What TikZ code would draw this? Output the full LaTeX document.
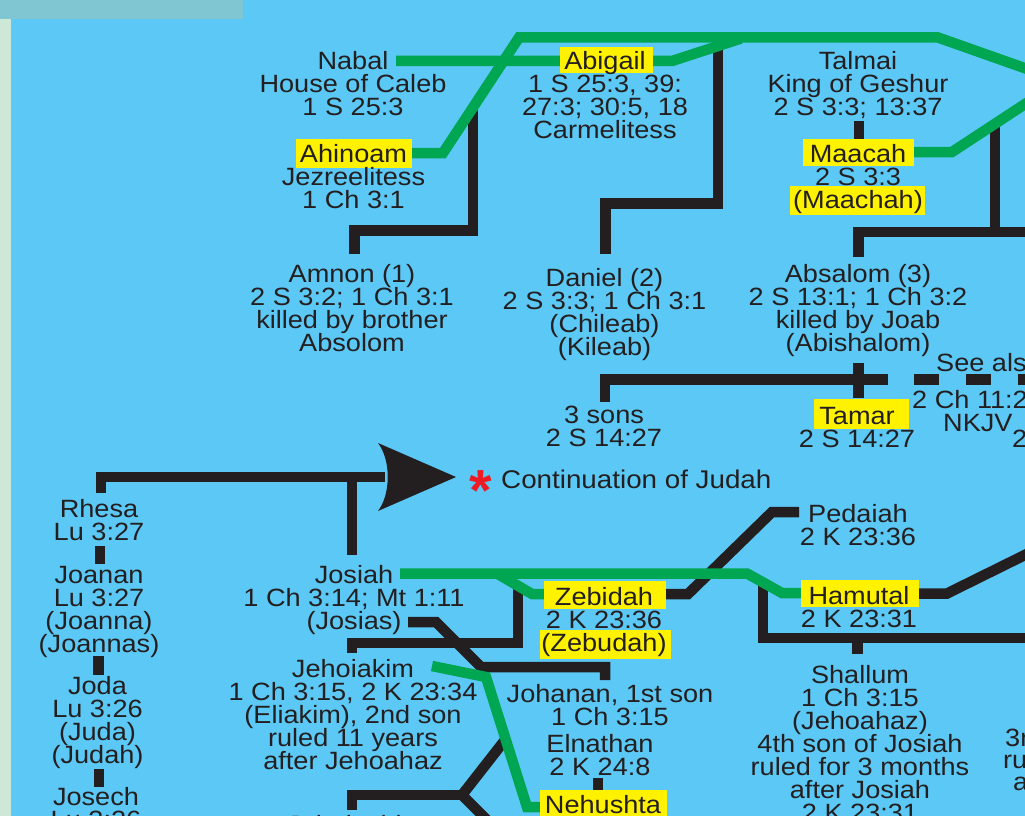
\documentclass[tikz,border=0pt]{standalone}
\usepackage{fontspec}
\setmainfont{Liberation Sans}
\usepackage{graphicx}
\definecolor{bgblue}{HTML}{5CC8F5}
\definecolor{topbar}{HTML}{7FC6D2}
\definecolor{sidestrip}{HTML}{CDE8D6}
\definecolor{lineblack}{HTML}{231F20}
\definecolor{linegreen}{HTML}{00A651}
\definecolor{hlyellow}{HTML}{FFF200}
\definecolor{astred}{HTML}{ED1C24}
\newcommand\tx[1]{\scalebox{1.085}[1]{\vtop{\baselineskip=23pt\lineskiplimit=-100pt\lineskip=0pt\halign{\hfil##\hfil\cr#1\crcr}}}}
\tikzset{
  blk/.style={draw=lineblack, line width=10.5pt, line join=miter, line cap=butt},
  grn/.style={draw=linegreen, line width=10.5pt, line join=miter, line cap=butt},
  lbl/.style={anchor=base, inner sep=0pt, text=lineblack, font=\fontsize{25}{23}\selectfont},
  lblw/.style={lbl, anchor=base west},
  hlbox/.style={fill=hlyellow},
}
\begin{document}
\begin{tikzpicture}[x=1pt,y=-1pt]
\useasboundingbox (0,0) rectangle (1025,816);
\clip (0,0) rectangle (1025,816);
\fill[bgblue] (0,0) rectangle (1025,816);
\fill[sidestrip] (0,0) rectangle (11,816);
\fill[topbar] (0,0) rectangle (243,19);

% ---------- named connector end points ----------
\coordinate (amnonA) at (473,110);   \coordinate (amnonB) at (354.5,254);
\coordinate (danielA) at (718,50);   \coordinate (danielB) at (605.7,254);
\coordinate (talmaiT) at (859,121);  \coordinate (maacahT) at (859,139);
\coordinate (absA) at (995,126);     \coordinate (absB) at (858.5,256.5);
\coordinate (absR) at (1035,232);
\coordinate (sonsT) at (605,401.5);  \coordinate (sonsR) at (888,379.5);
\coordinate (tamA) at (858.5,363);   \coordinate (tamB) at (858.5,398);
\coordinate (seeA) at (914,379.5);   \coordinate (seeB) at (1035,379.5);
\coordinate (rhesaT) at (101,493);   \coordinate (arrowE) at (385,477);
\coordinate (rhesaB) at (100,546);   \coordinate (joananT) at (100,564);
\coordinate (joananB) at (98.5,656); \coordinate (jodaT) at (98.5,675);
\coordinate (jodaB) at (99,769);     \coordinate (josechT) at (99,787);
\coordinate (josiahJ) at (352,477);  \coordinate (josiahT) at (352,555);
\coordinate (josiasR) at (408,622);  \coordinate (johananT) at (605,680);
\coordinate (zebJ) at (518,588);     \coordinate (jehoiakimT) at (352,653);
\coordinate (zebR) at (660,594);     \coordinate (pedaiahL) at (799,512);
\coordinate (hamR) at (912,593.5);   \coordinate (hamOut) at (1035,550);
\coordinate (hamJ) at (763,582);     \coordinate (shalR) at (1035,638);
\coordinate (shalJ) at (857.5,638);  \coordinate (shallumT) at (857.5,654);
\coordinate (elnB) at (598,778);     \coordinate (nehT) at (598,792);
\coordinate (jchT) at (352,810);     \coordinate (yJ) at (462,795);
\coordinate (yUp) at (505,740);      \coordinate (yDn) at (492,825);
\coordinate (nabalR) at (396,61);    \coordinate (nabalE) at (741,38.5);
\coordinate (ahiR) at (410,153);     \coordinate (davidA) at (1045,75.3);
\coordinate (maaR) at (910,152);     \coordinate (davidB) at (1045,90.9);
\coordinate (josiahR) at (400,573.5);\coordinate (hamL) at (803,593);
\coordinate (zebG) at (497,573.5);   \coordinate (zebL) at (546,594);
\coordinate (jkR) at (432,666);      \coordinate (nehL) at (542,807);

% ---------- black lines ----------
\draw[blk] (amnonA) -- (473,230.5) -- (354.5,230.5) -- (amnonB);
\draw[blk] (danielA) -- (718,203.5) -- (605.7,203.5) -- (danielB);
\draw[blk] (talmaiT) -- (maacahT);
\draw[blk] (absR) -- (858.5,232) -- (absB);
\draw[blk] (absA) -- (995,232);
\draw[blk] (sonsT) -- (605,379.5) -- (sonsR);
\draw[blk] (tamA) -- (tamB);
\draw[blk, dash pattern=on 25pt off 27pt] (seeA) -- (seeB);
\draw[blk] (rhesaT) -- (101,477) -- (arrowE);
\fill[lineblack] (456,477) -- (378,443) .. controls (391,460) and (391,494) .. (378,511) -- cycle;
\draw[blk] (rhesaB) -- (joananT);
\draw[blk] (joananB) -- (jodaT);
\draw[blk] (jodaB) -- (josechT);
\draw[blk] (josiahJ) -- (josiahT);
\draw[blk] (josiasR) -- (436,622) -- (481,667) -- (605,667) -- (johananT);
\draw[blk] (zebJ) -- (518,643) -- (352,643) -- (jehoiakimT);
\draw[blk] (zebR) -- (688,594) -- (772,512) -- (pedaiahL);
\draw[blk] (hamR) -- (947,593.5) -- (hamOut);
\draw[blk] (hamJ) -- (763,638) -- (shalR);
\draw[blk] (shalJ) -- (shallumT);
\draw[blk] (elnB) -- (nehT);
\draw[blk] (jchT) -- (352,795) -- (yJ);
\draw[blk] (yUp) -- (yJ) -- (yDn);

% ---------- green lines ----------
\draw[grn] (nabalR) -- (672,61) -- (nabalE);
\draw[grn] (ahiR) -- (443,153) -- (519,37.5) -- (938,37.5) -- (davidA);
\draw[grn] (maaR) -- (952,152) -- (davidB);
\draw[grn] (josiahR) -- (747,573.5) -- (782,593) -- (hamL);
\draw[grn] (zebG) -- (532,594) -- (zebL);
\draw[grn] (jkR) -- (486,677) -- (527,807) -- (nehL);

% ---------- highlights ----------
\fill[hlbox] (296,139) rectangle (412,168);
\fill[hlbox] (560,47) rectangle (653,73);
\fill[hlbox] (803,139) rectangle (914,166);
\fill[hlbox] (790,186) rectangle (925,215);
\fill[hlbox] (814,399) rectangle (909,429);
\fill[hlbox] (544,581) rectangle (666,609);
\fill[hlbox] (540,630) rectangle (671,659);
\fill[hlbox] (801,580) rectangle (919,607);
\fill[hlbox] (540,790) rectangle (667,830);

% ---------- people ----------
\node[lbl] (nabal) at (353,69.5) {\tx{Nabal\cr House of Caleb\cr 1 S 25:3}};
\node[lbl] (ahinoam) at (353.5,162.5) {\tx{Ahinoam\cr Jezreelitess\cr 1 Ch 3:1}};
\node[lbl] (abigail) at (605,69.5) {\tx{Abigail\cr 1 S 25:3, 39:\cr 27:3; 30:5, 18\cr Carmelitess}};
\node[lbl] (talmai) at (858,69.5) {\tx{Talmai\cr King of Geshur\cr 2 S 3:3; 13:37}};
\node[lbl] (maacah) at (858,162.5) {\tx{Maacah\cr 2 S 3:3\cr (Maachah)}};
\node[lbl] (amnon) at (352,282) {\tx{Amnon (1)\cr 2 S 3:2; 1 Ch 3:1\cr killed by brother\cr Absolom}};
\node[lbl] (daniel) at (604.5,286) {\tx{Daniel (2)\cr 2 S 3:3; 1 Ch 3:1\cr (Chileab)\cr (Kileab)}};
\node[lbl] (absalom) at (858,282) {\tx{Absalom (3)\cr 2 S 13:1; 1 Ch 3:2\cr killed by Joab\cr (Abishalom)}};
\node[lbl] (sons) at (604,423) {\tx{3 sons\cr 2 S 14:27}};
\node[lbl] (tamar) at (857,424) {\tx{Tamar\cr 2 S 14:27}};
\node[lblw] (seealso) at (936,371) {\tx{See als}};
\node[lblw] (ch11) at (912,408) {\tx{2 Ch 11:2}};
\node[lblw] (nkjv) at (943,431.5) {\tx{NKJV}};
\node[lblw] (two) at (1012,447) {\tx{2}};
\node[anchor=base, inner sep=0pt, text=astred, font=\fontsize{58}{58}\bfseries\selectfont] (ast) at (481,510) {*};
\node[lblw, font=\fontsize{25.6}{23}\selectfont] (cont) at (501,488.5) {\tx{Continuation of Judah}};
\node[lbl] (rhesa) at (99,517) {\tx{Rhesa\cr Lu 3:27}};
\node[lbl] (joanan) at (99,583) {\tx{Joanan\cr Lu 3:27\cr (Joanna)\cr (Joannas)}};
\node[lbl] (joda) at (97.5,694) {\tx{Joda\cr Lu 3:26\cr (Juda)\cr (Judah)}};
\node[lbl] (josech) at (96,805) {\tx{Josech\cr Lu 3:26}};
\node[lbl] (josiah) at (354,583) {\tx{Josiah\cr 1 Ch 3:14; Mt 1:11\cr (Josias)}};
\node[lbl] (jehoiakim) at (353,677) {\tx{Jehoiakim\cr 1 Ch 3:15, 2 K 23:34\cr (Eliakim), 2nd son\cr ruled 11 years\cr after Jehoahaz}};
\node[lbl] (jehoiachin) at (352,833) {\tx{Jehoiachin}};
\node[lbl] (pedaiah) at (858,522) {\tx{Pedaiah\cr 2 K 23:36}};
\node[lbl] (zebidah) at (604,605) {\tx{Zebidah\cr 2 K 23:36\cr (Zebudah)}};
\node[lbl] (hamutal) at (859,604) {\tx{Hamutal\cr 2 K 23:31}};
\node[lbl] (johanan) at (610,702) {\tx{Johanan, 1st son\cr 1 Ch 3:15}};
\node[lbl] (elnathan) at (600,752) {\tx{Elnathan\cr 2 K 24:8}};
\node[lbl] (nehushta) at (603,813) {\tx{Nehushta}};
\node[lbl] (shallum) at (860,683) {\tx{Shallum\cr 1 Ch 3:15\cr (Jehoahaz)\cr 4th son of Josiah\cr ruled for 3 months\cr after Josiah\cr 2 K 23:31}};
\node[lblw] (third1) at (1005,746) {\tx{3r}};
\node[lblw] (third2) at (1003,768) {\tx{ru}};
\node[lblw] (third3) at (1013,790) {\tx{a}};
\end{tikzpicture}
\end{document}
